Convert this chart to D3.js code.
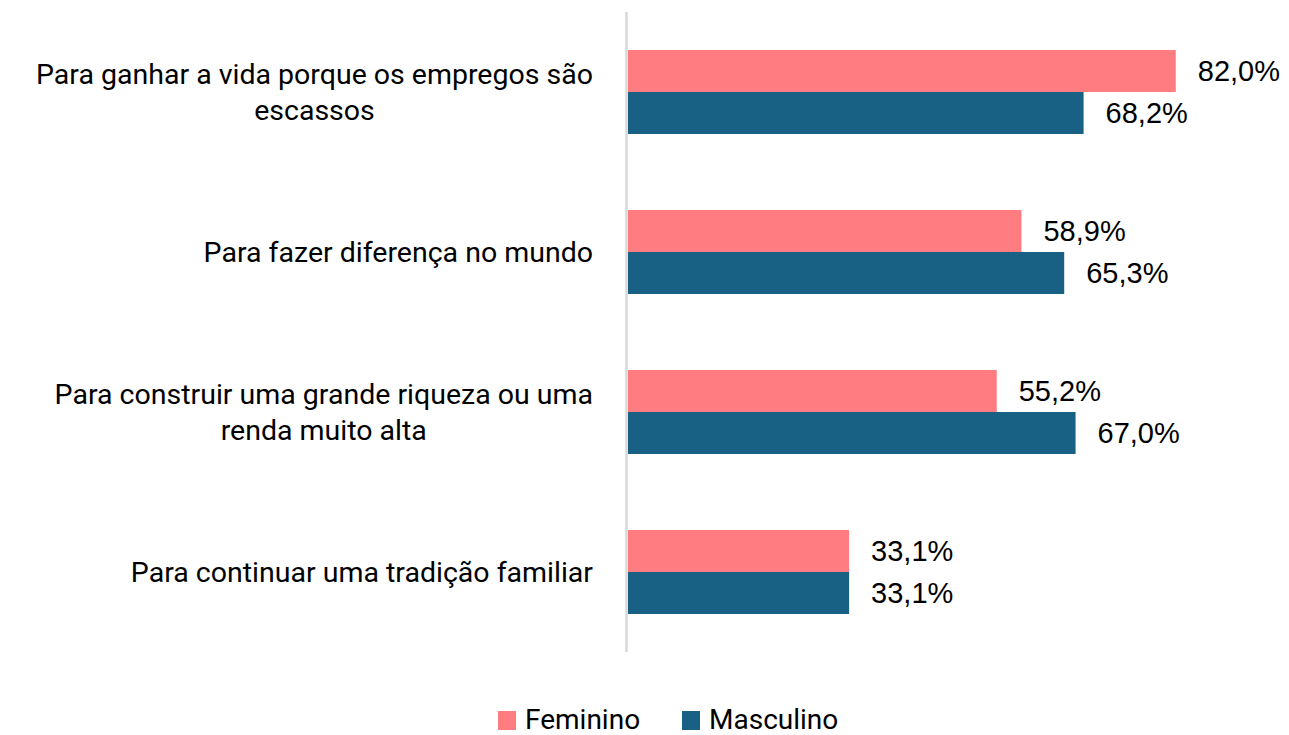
<!DOCTYPE html>
<html>
<head>
<meta charset="utf-8">
<script src="https://cdn.jsdelivr.net/npm/d3@7"></script>
<style>
body { margin: 0; background: #fff; }
.cat { font-family: "Roboto", sans-serif; font-size: 28.5px; fill: #000; }
.val { font-family: "Liberation Sans", Arial, sans-serif; font-size: 29px; fill: #000; }
.leg { font-family: "Roboto", sans-serif; font-size: 28px; fill: #000; }
</style>
</head>
<body>
<svg width="1289" height="735"></svg>
<script>
var categories = [
	["Para ganhar a vida porque os empregos são", "escassos"],
	["Para fazer diferença no mundo"],
	["Para construir uma grande riqueza ou uma", "renda muito alta"],
	["Para continuar uma tradição familiar"]
];
var series = ["Feminino", "Masculino"];
var feminino = [82.0, 58.9, 55.2, 33.1];
var masculino = [68.2, 65.3, 67.0, 33.1];
var colors = ["#FF7C80", "#186084"];

var svg = d3.select("svg");

var x = d3.scaleLinear().domain([0, 100]).range([628, 1296]);
var y = d3.scaleBand().domain(d3.range(categories.length)).range([12, 652]).paddingInner(0.475).paddingOuter(0.2375);
var sub = d3.scaleBand().domain(series).range([0, y.bandwidth()]);

// axis line
svg.append("line")
	.attr("x1", 626.5).attr("x2", 626.5)
	.attr("y1", 12).attr("y2", 652)
	.attr("stroke", "#d9d9d9").attr("stroke-width", 2.5);

var rows = categories.map(function(c, i) {
	return { i: i, label: c, vals: [feminino[i], masculino[i]] };
});

var g = svg.selectAll("g.row").data(rows).enter().append("g")
	.attr("class", "row")
	.attr("transform", function(d) { return "translate(0," + y(d.i) + ")"; });

series.forEach(function(s, k) {
	g.append("rect")
		.attr("x", x(0))
		.attr("y", sub(s))
		.attr("width", function(d) { return x(d.vals[k]) - x(0); })
		.attr("height", sub.bandwidth())
		.attr("fill", colors[k]);
	g.append("text")
		.attr("class", "val")
		.attr("x", function(d) { return x(d.vals[k]) + 22; })
		.attr("y", sub(s) + sub.bandwidth() / 2)
		.attr("dy", "0.36em")
		.text(function(d) { return d.vals[k].toFixed(1).replace(".", ",") + "%"; });
});

// category labels, block right aligned, lines centered
g.each(function(d) {
	var grp = d3.select(this);
	var t = grp.append("text").attr("class", "cat").attr("text-anchor", "middle");
	var n = d.label.length;
	var lineH = 36;
	var mid = y.bandwidth() / 2;
	var spans = d.label.map(function(l, j) {
		return t.append("tspan").attr("y", mid + (j - (n - 1) / 2) * lineH).attr("dy", "0.36em").text(l);
	});
	var w = 0;
	spans.forEach(function(sp) { w = Math.max(w, sp.node().getComputedTextLength()); });
	spans.forEach(function(sp) { sp.attr("x", 593 - w / 2); });
});

// legend
var legX = [498, 682];
series.forEach(function(s, k) {
	svg.append("rect").attr("x", legX[k]).attr("y", 711).attr("width", 18).attr("height", 19).attr("fill", colors[k]);
	svg.append("text").attr("class", "leg").attr("x", legX[k] + 27).attr("y", 719).attr("dy", "0.36em").text(s);
});
</script>
</body>
</html>
